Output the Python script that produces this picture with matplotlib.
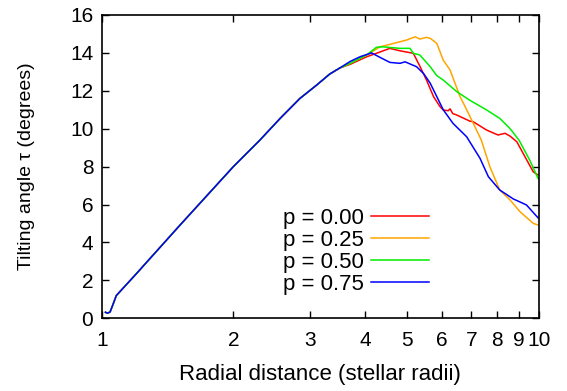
import matplotlib
matplotlib.use("Agg")
import matplotlib.pyplot as plt
from matplotlib.ticker import FixedLocator, FixedFormatter, NullLocator

plt.rcParams['font.family'] = ['Liberation Sans', 'DejaVu Sans']

# shared rising part of all four curves
r_common = [1.02, 1.03, 1.045, 1.06, 1.08, 1.2, 1.5, 2.0, 2.3, 2.56, 2.84, 3.1, 3.32, 3.5]
tau_common = [0.32, 0.27, 0.33, 0.7, 1.2, 2.35, 4.84, 8.0, 9.4, 10.55, 11.6, 12.3, 12.88, 13.2]

r_p000 = [3.7, 4.04, 4.25, 4.56, 4.81, 5.16, 5.34, 5.53, 5.74, 5.94, 6.04, 6.2, 6.26,
          6.35, 6.49, 6.95, 7.07, 7.59, 8.06, 8.36, 8.6, 8.9, 9.3, 9.7, 9.95]
tau_p000 = [13.4, 13.8, 13.98, 14.24, 14.11, 13.98, 13.3, 12.57, 11.69, 11.16, 10.99, 10.95, 11.05,
            10.8, 10.72, 10.4, 10.37, 9.93, 9.67, 9.76, 9.6, 9.31, 8.5, 7.73, 7.56]

r_p025 = [3.7, 4.04, 4.33, 4.65, 4.98, 5.21, 5.34, 5.53, 5.64, 5.84, 6.04, 6.26, 6.6,
          6.72, 7.07, 7.38, 7.72, 8.13, 8.59, 9.05, 9.7, 9.95]
tau_p025 = [13.45, 13.89, 14.32, 14.5, 14.68, 14.85, 14.73, 14.82, 14.77, 14.5, 13.62, 13.1, 11.69,
            11.34, 10.3, 9.4, 8.0, 6.77, 6.24, 5.62, 5.01, 4.92]

r_p050 = [3.7, 4.04, 4.25, 4.4, 4.81, 5.07, 5.16, 5.34, 5.64, 5.84, 6.04, 6.49, 6.95,
          7.59, 8.13, 8.59, 9.0, 9.52, 9.95]
tau_p050 = [13.45, 13.9, 14.3, 14.32, 14.24, 14.24, 13.98, 13.89, 13.27, 12.8, 12.57, 11.95, 11.5,
            10.99, 10.55, 10.0, 9.4, 8.35, 7.38]

r_p075 = [3.7, 3.9, 4.14, 4.3, 4.56, 4.81, 4.94, 5.25, 5.45, 5.64, 6.04, 6.36, 6.83,
          7.33, 7.66, 8.13, 8.73, 9.36, 9.95]
tau_p075 = [13.55, 13.8, 14.0, 13.8, 13.5, 13.45, 13.53, 13.27, 12.9, 12.4, 11.0, 10.28, 9.58,
            8.44, 7.47, 6.77, 6.3, 5.98, 5.3]

labels = ["p = 0.00", "p = 0.25", "p = 0.50", "p = 0.75"]
colors = ["#ff0000", "#ffa500", "#00ee00", "#0000ff"]
series = [(r_p000, tau_p000), (r_p025, tau_p025), (r_p050, tau_p050), (r_p075, tau_p075)]

fig = plt.figure(figsize=(5.67, 3.91), dpi=100)
ax = fig.add_axes([101.7 / 567, 1 - 318.3 / 391, (539 - 101.7) / 567, (318.3 - 15) / 391])

for (r, t), lab, c in zip(series, labels, colors):
    ax.plot(r_common + r, tau_common + t, color=c, lw=1.1, label=lab)

ax.set_xscale("log")
ax.set_xlim(1, 10)
ax.set_ylim(0, 16)

xt = [1, 2, 3, 4, 5, 6, 7, 8, 9, 10]
ax.xaxis.set_major_locator(FixedLocator(xt))
ax.xaxis.set_major_formatter(FixedFormatter([str(v) for v in xt]))
ax.xaxis.set_minor_locator(NullLocator())
ax.set_yticks(range(0, 17, 2))

ax.tick_params(direction="in", length=5, width=1, top=True, right=True,
               labelsize=15, colors="black")
ax.tick_params(axis="x", pad=9)
ax.tick_params(axis="y", pad=6)
for s in ax.spines.values():
    s.set_linewidth(1.2)

ax.set_xlabel("Radial distance (stellar radii)", fontsize=16, labelpad=10)
ax.set_ylabel("Tilting angle τ (degrees)", fontsize=14, labelpad=25)

leg = ax.legend(loc="lower right", bbox_to_anchor=(0.748, 0.077), frameon=False,
                fontsize=16, markerfirst=False, handlelength=2.6, handletextpad=0.3,
                labelspacing=0.05, borderaxespad=0, borderpad=0)

fig.savefig("out.png", dpi=100)
